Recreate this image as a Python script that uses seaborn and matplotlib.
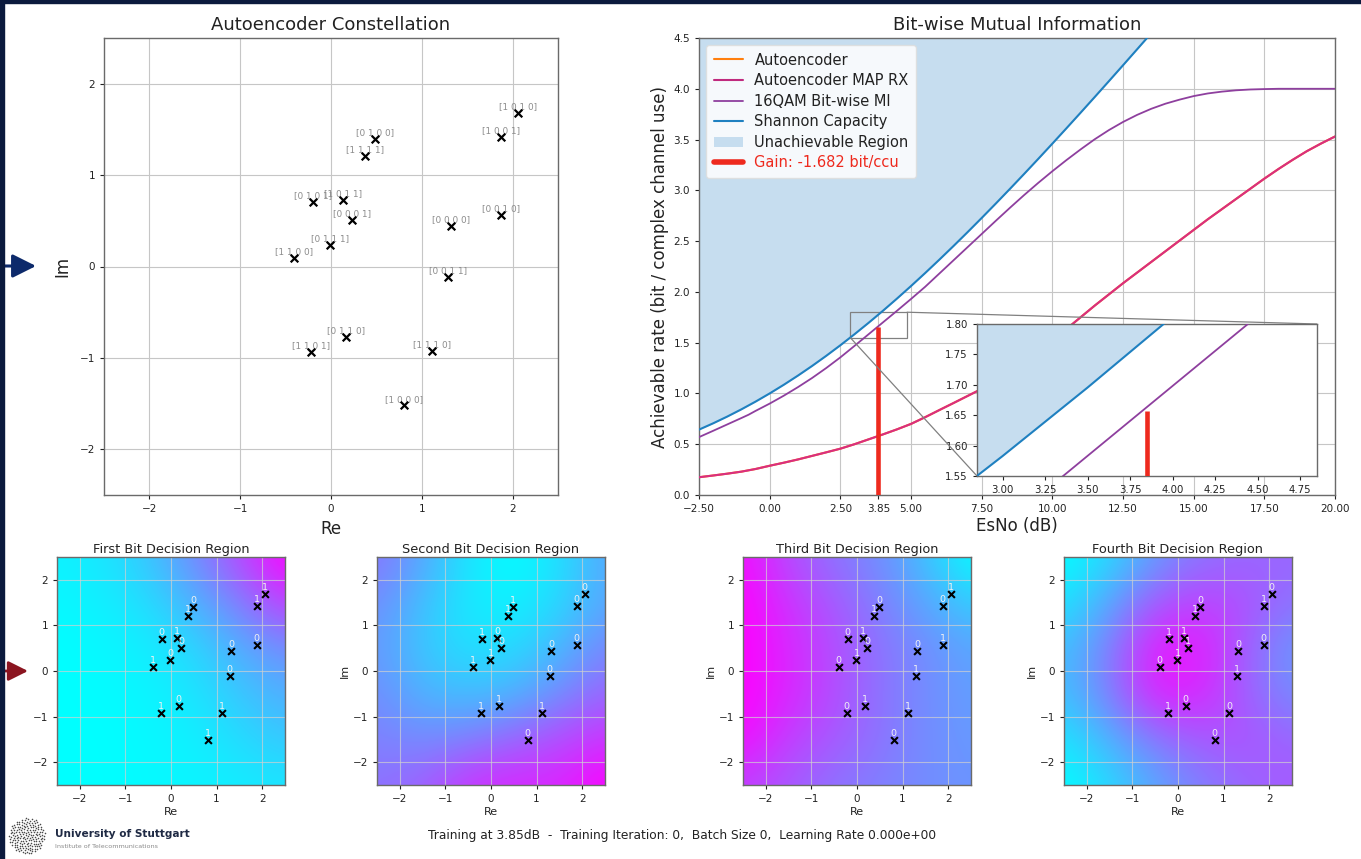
import numpy as np
import matplotlib
matplotlib.use("Agg")
import matplotlib.pyplot as plt
import seaborn as sns
from matplotlib.lines import Line2D
from matplotlib.patches import Patch, Rectangle
from mpl_toolkits.axes_grid1.inset_locator import mark_inset

# ---------------- data ----------------
const_re = [2.056, 0.481, 1.876, 0.378, -0.202, 0.136, 0.228, 1.876,
            1.322, -0.011, -0.404, 1.289, 0.165, -0.224, 1.116, 0.807]
const_im = [1.683, 1.395, 1.417, 1.212, 0.706, 0.728, 0.512, 0.563,
            0.440, 0.239, 0.096, -0.118, -0.771, -0.932, -0.921, -1.519]
const_bits = ["1010", "0100", "1001", "1111", "0101", "1011", "0001", "0010",
              "0000", "0111", "1100", "0011", "0110", "1101", "1110", "1000"]

shannon_x = [-2.5, -2.0, -1.5, -1.0, -0.5, 0.0, 0.5, 1.0, 1.5, 2.0, 2.5, 3.0,
             3.5, 4.0, 4.5, 5.0, 5.5, 6.0, 6.5, 7.0, 7.5, 8.0, 8.5, 9.0, 9.5,
             10.0, 10.5, 11.0, 11.5, 12.0, 12.5, 13.0, 13.5, 14.0]
shannon_c = [0.6437, 0.7057, 0.7723, 0.8435, 0.9193, 1.0, 1.0854, 1.1756,
             1.2705, 1.3701, 1.4742, 1.5827, 1.6954, 1.8122, 1.9330, 2.0574,
             2.1853, 2.3165, 2.4507, 2.5878, 2.7276, 2.8698, 3.0143, 3.1608,
             3.3092, 3.4594, 3.6112, 3.7644, 3.9189, 4.0746, 4.2313, 4.3890,
             4.5476, 4.7070]

qam_x = [-2.5, -2.0, -1.5, -1.0, -0.75, -0.5, 0.0, 0.5, 1.0, 1.5, 2.0, 2.5,
         3.0, 3.5, 4.0, 4.5, 5.0, 5.5, 6.0, 6.5, 7.0, 7.5, 8.0, 8.5,
         9.0, 9.5, 10.0, 10.5, 11.0, 11.5, 12.0, 12.5, 13.0, 13.5, 14.0,
         14.5, 15.0, 15.5, 16.0, 16.5, 17.0, 17.5, 18.0, 19.0, 20.0]
qam_mi = [0.570, 0.632, 0.695, 0.758, 0.790, 0.828, 0.900, 0.978, 1.062,
          1.152, 1.250, 1.355, 1.468, 1.583, 1.698, 1.813, 1.930,
          2.050, 2.180, 2.310, 2.440, 2.570, 2.700, 2.828, 2.953, 3.073,
          3.188, 3.298, 3.403, 3.503, 3.593, 3.673, 3.743, 3.803, 3.853,
          3.893, 3.928, 3.954, 3.972, 3.985, 3.993, 3.997, 4.000, 4.000, 4.000]

ae_x = [-2.5, -2.0, -1.5, -1.0, -0.5, 0.0, 0.5, 1.0, 1.5, 2.0, 2.5, 3.0,
        3.5, 4.0, 4.5, 5.0, 5.5, 6.0, 6.5, 7.0, 7.5, 8.0, 8.5, 9.0, 9.5,
        10.0, 10.5, 11.0, 11.5, 12.0, 12.5, 13.0, 13.5, 14.0, 14.5, 15.0,
        15.5, 16.0, 16.5, 17.0, 17.5, 18.0, 18.5, 19.0, 19.5, 20.0]
ae_mi = [0.175, 0.192, 0.210, 0.230, 0.256, 0.288, 0.318, 0.350, 0.385,
         0.420, 0.456, 0.500, 0.548, 0.596, 0.646, 0.700, 0.766, 0.836,
         0.905, 0.975, 1.045, 1.120, 1.200, 1.290, 1.390, 1.510, 1.635,
         1.750, 1.865, 1.975, 2.085, 2.190, 2.295, 2.400, 2.505, 2.610,
         2.715, 2.815, 2.915, 3.015, 3.115, 3.210, 3.300, 3.385, 3.460, 3.530]

train_esno = 3.85
gain_top = 1.657
gain_label = "Gain: -1.682 bit/ccu"

mi_xticks = [-2.5, 0.0, 2.5, 3.85, 5.0, 7.5, 10.0, 12.5, 15.0, 17.5, 20.0]
mi_yticks = [0.0, 0.5, 1.0, 1.5, 2.0, 2.5, 3.0, 3.5, 4.0, 4.5]
inset_xticks = [3.0, 3.25, 3.5, 3.75, 4.0, 4.25, 4.5, 4.75]
inset_yticks = [1.55, 1.60, 1.65, 1.70, 1.75, 1.80]

# decision-region soft outputs (rows: Im from +2.5 to -2.5, cols: Re from -2.5 to 2.5)
bit1_map = [[0.05, 0.10, 0.22, 0.45, 0.70, 1.00],
            [0.03, 0.06, 0.14, 0.30, 0.50, 0.75],
            [0.00, 0.03, 0.07, 0.16, 0.32, 0.45],
            [0.00, 0.01, 0.04, 0.10, 0.22, 0.32],
            [0.00, 0.00, 0.03, 0.06, 0.14, 0.22],
            [0.00, 0.00, 0.02, 0.04, 0.07, 0.10]]
bit2_map = [[0.55, 0.35, 0.10, 0.00, 0.12, 0.35],
            [0.45, 0.25, 0.08, 0.05, 0.15, 0.35],
            [0.40, 0.22, 0.12, 0.14, 0.28, 0.48],
            [0.45, 0.30, 0.25, 0.30, 0.45, 0.60],
            [0.50, 0.45, 0.50, 0.60, 0.70, 0.80],
            [0.55, 0.62, 0.80, 0.85, 0.85, 1.00]]
bit3_map = [[0.95, 0.70, 0.55, 0.45, 0.25, 0.00],
            [1.00, 0.80, 0.65, 0.50, 0.35, 0.20],
            [1.00, 0.85, 0.70, 0.55, 0.45, 0.35],
            [1.00, 0.85, 0.70, 0.55, 0.45, 0.38],
            [0.95, 0.75, 0.65, 0.55, 0.45, 0.40],
            [0.75, 0.65, 0.55, 0.50, 0.45, 0.42]]
bit4_map = [[0.00, 0.15, 0.40, 0.55, 0.60, 0.60],
            [0.10, 0.35, 0.65, 0.75, 0.68, 0.55],
            [0.25, 0.50, 0.90, 0.90, 0.62, 0.40],
            [0.25, 0.50, 0.88, 0.85, 0.62, 0.45],
            [0.10, 0.30, 0.52, 0.65, 0.68, 0.60],
            [0.00, 0.15, 0.35, 0.50, 0.60, 0.65]]
region_titles = ["First Bit Decision Region", "Second Bit Decision Region",
                 "Third Bit Decision Region", "Fourth Bit Decision Region"]

footer = ("Training at 3.85dB  -  Training Iteration: 0,  Batch Size 0,  "
          "Learning Rate 0.000e+00")

# ---------------- style ----------------
sns.set_style("whitegrid", {"axes.edgecolor": "#6a6a6a", "grid.color": "#c6c6c6",
                            "xtick.bottom": True, "ytick.left": True})
plt.rcParams.update({
    "font.family": ["DejaVu Sans"],
    "xtick.major.size": 3, "ytick.major.size": 3,
    "xtick.major.width": 0.8, "ytick.major.width": 0.8,
    "xtick.color": "#222222", "ytick.color": "#222222",
    "axes.labelcolor": "#222222", "text.color": "#222222",
    "grid.linewidth": 0.8, "axes.linewidth": 1.0,
})

W, H = 1361, 859
fig = plt.figure(figsize=(W / 100, H / 100), dpi=100)
fig.patch.set_facecolor("white")


def box(l, t, r, b):
    return [l / W, 1 - b / H, (r - l) / W, (b - t) / H]


def fmt(v, nd):
    return f"{v:.{nd}f}".replace("-", "\u2212")


C_ORANGE = "#ff7f0e"
C_MAP = "#d92e80"
C_QAM = "#8e3f9e"
C_BLUE = "#1f80c0"
C_FILL = "#c6ddef"
C_RED = "#ee2a1e"

# ---------------- constellation ----------------
ax_c = fig.add_axes(box(104, 38, 558, 495))
sns.scatterplot(x=const_re, y=const_im, marker="x", color="black", s=30,
                linewidth=1.6, ax=ax_c, zorder=3)
for re, im, b in zip(const_re, const_im, const_bits):
    ax_c.annotate("[" + " ".join(b) + "]", (re, im), xytext=(0, 1.2),
                  textcoords="offset points", ha="center", va="bottom",
                  fontsize=6.4, color="#8c8c8c", zorder=2)
ax_c.set_xlim(-2.5, 2.5)
ax_c.set_ylim(-2.5, 2.5)
ax_c.set_xticks([-2, -1, 0, 1, 2])
ax_c.set_yticks([-2, -1, 0, 1, 2])
ax_c.tick_params(labelsize=7.5)
ax_c.set_title("Autoencoder Constellation", fontsize=13, pad=6)
ax_c.set_xlabel("Re", fontsize=12, labelpad=4)
ax_c.set_ylabel("Im", fontsize=12, labelpad=6)

# ---------------- mutual information ----------------
ax_m = fig.add_axes(box(699, 38, 1335, 495))


def draw_curves(ax, bar_bottom):
    ax.fill_between(shannon_x, shannon_c, 4.5, color=C_FILL, lw=0, zorder=1)
    sns.lineplot(x=ae_x, y=ae_mi, ax=ax, color=C_ORANGE, lw=1.5, zorder=2)
    sns.lineplot(x=ae_x, y=ae_mi, ax=ax, color=C_MAP, lw=1.5, zorder=3)
    sns.lineplot(x=qam_x, y=qam_mi, ax=ax, color=C_QAM, lw=1.3, zorder=3)
    sns.lineplot(x=shannon_x, y=shannon_c, ax=ax, color=C_BLUE, lw=1.5, zorder=4)
    ax.vlines(train_esno, bar_bottom, gain_top, color=C_RED, lw=3.3, zorder=5)


draw_curves(ax_m, 0.0)
ax_m.set_xlim(-2.5, 20)
ax_m.set_ylim(0, 4.5)
ax_m.set_xticks(mi_xticks)
ax_m.set_xticklabels([fmt(t, 2) for t in mi_xticks])
ax_m.set_yticks(mi_yticks)
ax_m.set_yticklabels([fmt(t, 1) for t in mi_yticks])
ax_m.tick_params(labelsize=7.5)
ax_m.set_title("Bit-wise Mutual Information", fontsize=13, pad=6)
ax_m.set_xlabel("EsNo (dB)", fontsize=12, labelpad=2)
ax_m.set_ylabel("Achievable rate (bit / complex channel use)", fontsize=12, labelpad=3)

handles = [Line2D([], [], color=C_ORANGE, lw=1.5),
           Line2D([], [], color="#c02a7e", lw=1.5),
           Line2D([], [], color=C_QAM, lw=1.3),
           Line2D([], [], color=C_BLUE, lw=1.5),
           Patch(facecolor=C_FILL, edgecolor="none"),
           Line2D([], [], color=C_RED, lw=4)]
labels = ["Autoencoder", "Autoencoder MAP RX", "16QAM Bit-wise MI",
          "Shannon Capacity", "Unachievable Region", gain_label]
leg = ax_m.legend(handles, labels, loc="upper left", fontsize=10.5,
                  frameon=True, framealpha=0.85, borderpad=0.5,
                  labelspacing=0.38, handlelength=2.0)
leg.get_frame().set_edgecolor("#dddddd")
leg.get_texts()[-1].set_color(C_RED)
leg.set_zorder(10)

# inset
ax_i = fig.add_axes(box(977, 324, 1317, 476))
draw_curves(ax_i, 1.55)
ax_i.set_xlim(2.85, 4.85)
ax_i.set_ylim(1.55, 1.80)
ax_i.grid(False)
ax_i.set_facecolor("white")
ax_i.set_xticks(inset_xticks)
ax_i.set_xticklabels([fmt(t, 2) for t in inset_xticks])
ax_i.set_yticks(inset_yticks)
ax_i.set_yticklabels([fmt(t, 2) for t in inset_yticks])
ax_i.tick_params(labelsize=7.3)
ax_i.set_xlabel("")
ax_i.set_ylabel("")
mark_inset(ax_m, ax_i, loc1=1, loc2=3, fc="none", ec="0.5", lw=0.9)

# ---------------- decision regions ----------------
maps = [bit1_map, bit2_map, bit3_map, bit4_map]
lefts = [57, 377, 743, 1064]
for k in range(4):
    ax = fig.add_axes(box(lefts[k], 557, lefts[k] + 228, 785))
    ax.imshow(np.array(maps[k]), cmap="cool", vmin=0, vmax=1,
              extent=(-3, 3, -3, 3), origin="upper", interpolation="bicubic",
              zorder=0)
    ax.set_aspect("auto")
    sns.scatterplot(x=const_re, y=const_im, marker="x", color="black", s=24,
                    linewidth=1.5, ax=ax, zorder=3)
    for re, im, b in zip(const_re, const_im, const_bits):
        ax.annotate(b[k], (re, im), xytext=(0, 1.5), textcoords="offset points",
                    ha="center", va="bottom", fontsize=6.8, color="#f2f2f2",
                    zorder=4)
    ax.set_xlim(-2.5, 2.5)
    ax.set_ylim(-2.5, 2.5)
    ax.set_xticks([-2, -1, 0, 1, 2])
    ax.set_yticks([-2, -1, 0, 1, 2])
    ax.grid(True, color="#d0d0d0", alpha=0.7, lw=0.8)
    ax.tick_params(labelsize=7.5)
    ax.set_title(region_titles[k], fontsize=9.3, pad=3)
    ax.set_xlabel("Re", fontsize=8, labelpad=2)
    if k > 0:
        ax.set_ylabel("Im", fontsize=8, labelpad=2)

# ---------------- footer / decorations ----------------
fig.text(682 / W, 1 - 835 / H, footer, ha="center", va="center", fontsize=8.8,
         color="#222222")
fig.text(55 / W, 1 - 834 / H, "University of Stuttgart", ha="left",
         va="center", fontsize=7.6, fontweight="bold", color="#1f2a44")
fig.text(55 / W, 1 - 847 / H, "Institute of Telecommunications", ha="left",
         va="center", fontsize=4.6, color="#8a8a8a")

ax_logo = fig.add_axes(box(8, 817, 46, 855))
ax_logo.set_xlim(-1.05, 1.05)
ax_logo.set_ylim(-1.05, 1.05)
ax_logo.axis("off")
golden = np.pi * (3 - np.sqrt(5))
n_dots = 170
idx = np.arange(n_dots)
rad = np.sqrt((idx + 0.5) / n_dots)
ang = idx * golden
ax_logo.scatter(rad * np.cos(ang), rad * np.sin(ang), s=1.3, color="#4a4a4a",
                linewidths=0)

navy = "#0b1a3d"
fig.add_artist(Rectangle((0, 0), 4 / W, 1, transform=fig.transFigure,
                         color=navy, zorder=20))
fig.add_artist(Rectangle((0, 1 - 3 / H), 1, 3 / H, transform=fig.transFigure,
                         color=navy, zorder=20))
fig.add_artist(plt.Annotation("", xy=(36 / W, 1 - 266 / H), xytext=(0, 1 - 266 / H),
                              xycoords="figure fraction", textcoords="figure fraction",
                              arrowprops=dict(arrowstyle="-|>,head_length=0.9,head_width=0.45",
                                              color="#0d2a6b", lw=2.2, shrinkA=0, shrinkB=0,
                                              mutation_scale=16)))
fig.add_artist(plt.Annotation("", xy=(28 / W, 1 - 671 / H), xytext=(0, 1 - 671 / H),
                              xycoords="figure fraction", textcoords="figure fraction",
                              arrowprops=dict(arrowstyle="-|>,head_length=0.8,head_width=0.4",
                                              color="#8b1520", lw=2.0, shrinkA=0, shrinkB=0,
                                              mutation_scale=15)))

fig.savefig("out.png", dpi=100)
